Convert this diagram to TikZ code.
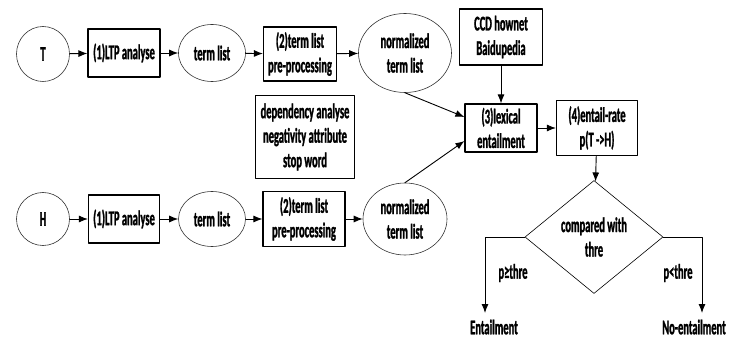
\documentclass[tikz,border=0pt]{standalone}
\usepackage{fontspec}
\setmainfont{Carlito}[FakeStretch=0.5,FakeBold=1.2]
\usetikzlibrary{arrows.meta, shapes.geometric}

\begin{document}
\begin{tikzpicture}[line cap=round,line join=round,x=1pt,y=-1pt,
    font=\fontsize{21}{24.5}\selectfont\bfseries,
    box/.style={rectangle,draw=black,line width=1.2pt,align=center,inner sep=0pt},
    elli/.style={ellipse,draw=black!80,line width=0.6pt,align=center,inner sep=0pt},
    flow/.style={-{Latex[length=9pt,width=7pt]},line width=0.9pt}]

    \useasboundingbox (0,0) rectangle (733,347);

    % T row
    \draw (43,54) node[elli,minimum width=53pt,minimum height=55pt] (T) {T};
    \draw (124,53) node[box,minimum width=72pt,minimum height=48pt] (ltpT) {(1)LTP analyse};
    \draw (212,53) node[elli,minimum width=67pt,minimum height=57pt] (termT) {term list};
    \draw (300,54) node[box,minimum width=73pt,minimum height=54pt] (preT) {(2)term list\\pre-processing};
    \draw (405,53) node[elli,minimum width=93pt,minimum height=79pt] (normT) {normalized\\term list};

    % H row
    \draw (43,219) node[elli,minimum width=53pt,minimum height=53pt] (H) {H};
    \draw (124,219) node[box,minimum width=71pt,minimum height=48pt] (ltpH) {(1)LTP analyse};
    \draw (212,219) node[elli,minimum width=67pt,minimum height=55pt] (termH) {term list};
    \draw (304,219) node[box,minimum width=82pt,minimum height=55pt] (preH) {(2)term list\\pre-processing};
    \draw (405,219) node[elli,minimum width=84pt,minimum height=72pt] (normH) {normalized\\term list};

    % resources
    \draw (305,137) node[box,minimum width=99pt,minimum height=83pt] (dep) {dependency analyse\\negativity attribute\\stop word};
    \draw (501,37) node[box,minimum width=83pt,minimum height=56pt] (ccd) {CCD hownet\\Baidupedia};

    % entailment steps
    \draw (501,128) node[box,minimum width=72pt,minimum height=48pt] (lex) {(3)lexical\\entailment};
    \draw (597,128) node[box,minimum width=81pt,minimum height=55pt] (rate) {(4)entail-rate\\p(T ->H)};
    \draw (594,237) node[diamond,draw=black,line width=0.6pt,align=center,inner sep=0pt,
        aspect=1.22,minimum width=138pt,minimum height=113pt] (cmp) {compared with\\thre};

    % results
    \draw (494,327) node (ent) {Entailment};
    \draw (694,327) node (noent) {No-entailment};
    \draw (513,273) node (ge) {p≥thre};
    \draw (678,273) node (lt) {p<thre};
    \coordinate (entTip) at (485,313);
    \coordinate (noTip) at (702,313);

    \draw[flow] (T) -- (ltpT);
    \draw[flow] (ltpT) -- (termT);
    \draw[flow] (termT) -- (preT);
    \draw[flow] (preT) -- (normT);
    \draw[flow] (H) -- (ltpH);
    \draw[flow] (ltpH) -- (termH);
    \draw[flow] (termH) -- (preH);
    \draw[flow] (preH) -- (normH);

    \draw[flow] (normT.south) -- ([yshift=11pt]lex.west);
    \draw[flow] (normH.north) -- ([yshift=-13pt]lex.west);
    \draw[flow] (ccd) -- (lex);
    \draw[flow] (lex) -- (rate);
    \draw[flow] (rate) -- (cmp);
    \draw[flow] (cmp.west) -| (entTip);
    \draw[flow] (cmp.east) -| (noTip);

\end{tikzpicture}
\end{document}
